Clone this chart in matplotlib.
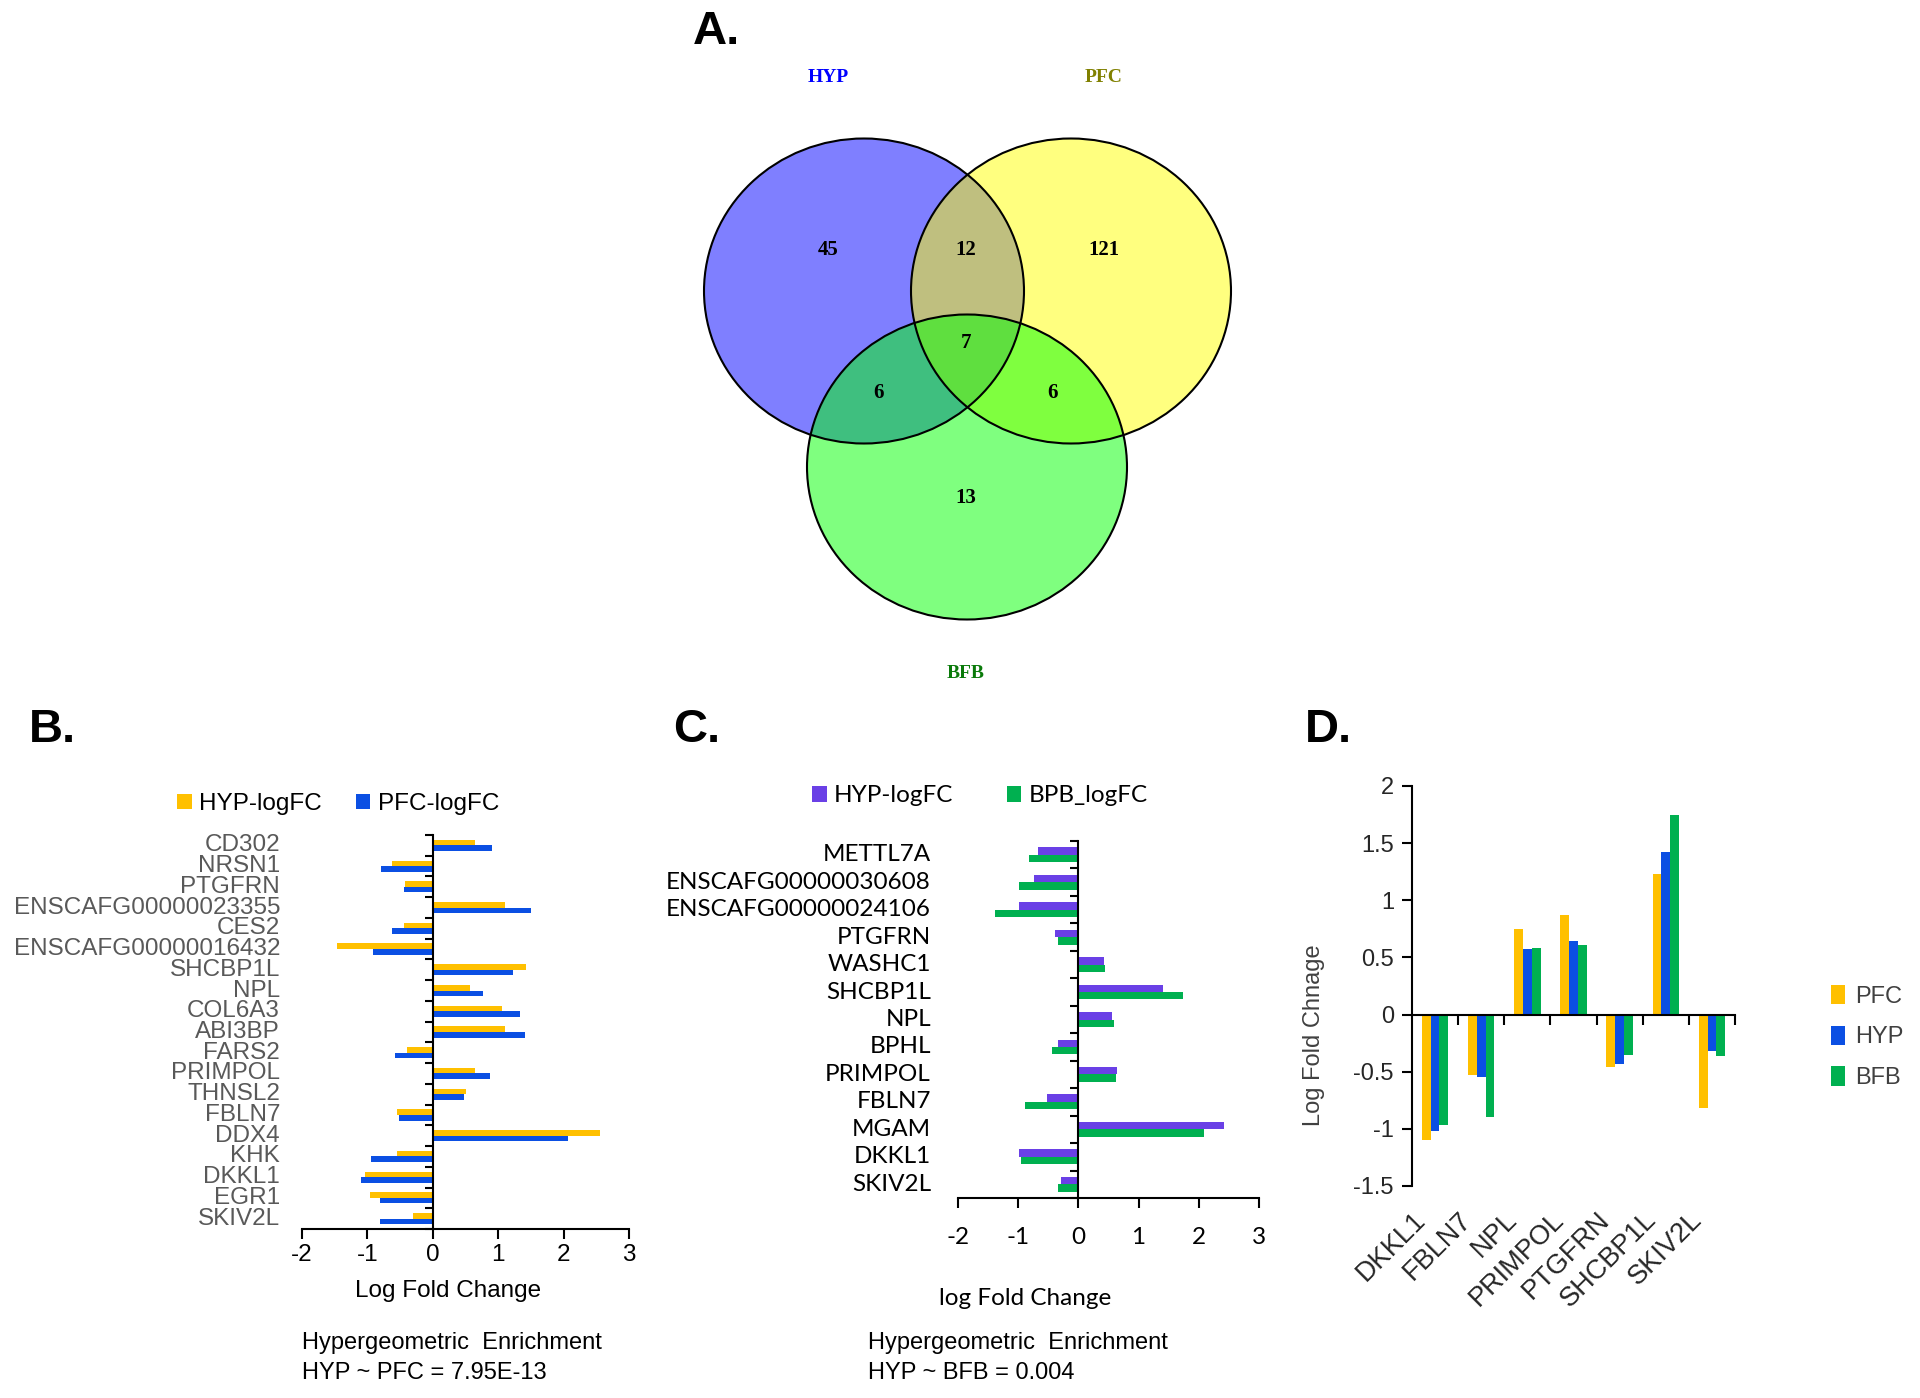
import numpy as np
import matplotlib.pyplot as plt
from matplotlib.patches import Ellipse
from matplotlib.transforms import blended_transform_factory

# ---- data ----
venn_sets = ["HYP", "PFC", "BFB"]
venn_counts = {"HYP": 45, "PFC": 121, "BFB": 13,
               "HYP&PFC": 12, "HYP&BFB": 6, "PFC&BFB": 6, "ALL": 7}

b_genes = ["CD302", "NRSN1", "PTGFRN", "ENSCAFG00000023355", "CES2",
           "ENSCAFG00000016432", "SHCBP1L", "NPL", "COL6A3", "ABI3BP", "FARS2",
           "PRIMPOL", "THNSL2", "FBLN7", "DDX4", "KHK", "DKKL1", "EGR1", "SKIV2L"]
b_hyp = [0.65, -0.63, -0.42, 1.11, -0.44, -1.47, 1.43, 0.57, 1.06, 1.11, -0.40,
         0.65, 0.50, -0.54, 2.55, -0.54, -1.03, -0.96, -0.30]
b_pfc = [0.90, -0.79, -0.44, 1.50, -0.63, -0.91, 1.23, 0.76, 1.34, 1.41, -0.58,
         0.87, 0.48, -0.52, 2.06, -0.95, -1.10, -0.81, -0.81]

c_genes = ["METTL7A", "ENSCAFG00000030608", "ENSCAFG00000024106", "PTGFRN",
           "WASHC1", "SHCBP1L", "NPL", "BPHL", "PRIMPOL", "FBLN7", "MGAM",
           "DKKL1", "SKIV2L"]
c_hyp = [-0.67, -0.74, -0.99, -0.39, 0.42, 1.41, 0.56, -0.34, 0.64, -0.52, 2.42, -0.99, -0.29]
c_bpb = [-0.82, -0.99, -1.38, -0.34, 0.44, 1.74, 0.59, -0.44, 0.62, -0.89, 2.09, -0.95, -0.34]

d_genes = ["DKKL1", "FBLN7", "NPL", "PRIMPOL", "PTGFRN", "SHCBP1L", "SKIV2L"]
d_pfc = [-1.10, -0.53, 0.75, 0.87, -0.46, 1.23, -0.82]
d_hyp = [-1.02, -0.55, 0.57, 0.64, -0.43, 1.42, -0.32]
d_bfb = [-0.97, -0.90, 0.58, 0.61, -0.35, 1.75, -0.36]

YEL = "#FFC000"
BLUE = "#0B4FE3"
PURP = "#6A40E6"
GRN = "#00B050"
SANS = ["Liberation Sans", "DejaVu Sans"]
SERIF = ["Liberation Serif", "DejaVu Serif"]
CAL = ["Lato", "DejaVu Sans"]

W, H = 1920, 1398
fig = plt.figure(figsize=(19.2, 13.98), dpi=100)


def frac(l, t, r, b):
    return [l / W, 1 - b / H, (r - l) / W, (b - t) / H]


# ---- A: venn ----
va = fig.add_axes([0, 0, 1, 1])
va.set_xlim(0, W)
va.set_ylim(H, 0)
va.axis("off")
centers = {"HYP": (864, 291), "PFC": (1071, 291), "BFB": (967, 467)}
fills = {"HYP": "#0000FF", "PFC": "#FFFF00", "BFB": "#00FF00"}
for s in venn_sets:
    va.add_patch(Ellipse(centers[s], 320, 305, fc=fills[s], alpha=0.5, ec="none"))
for s in venn_sets:
    va.add_patch(Ellipse(centers[s], 320, 305, fill=False, ec="black", lw=1.5))

label_pos = {"HYP": (828, 77), "PFC": (1104, 77), "BFB": (966, 673)}
label_col = {"HYP": "#0000FF", "PFC": "#808000", "BFB": "#0A7A0A"}
for s in venn_sets:
    va.text(*label_pos[s], s, color=label_col[s], family=SERIF, fontweight="bold",
            fontsize=14, ha="center", va="center")
count_pos = {"HYP": (828, 250), "HYP&PFC": (966, 250), "PFC": (1104, 250),
             "ALL": (966, 343), "HYP&BFB": (879, 393), "PFC&BFB": (1052, 393),
             "BFB": (966, 498)}
for k, v in venn_counts.items():
    va.text(*count_pos[k], str(v), family=SERIF, fontweight="bold", fontsize=15,
            ha="center", va="center")

for letter, x, y in [("A.", 693, 44), ("B.", 29, 742), ("C.", 673, 742), ("D.", 1305, 742)]:
    fig.text(x / W, 1 - y / H, letter, fontsize=34, fontweight="bold", family=SANS,
             ha="left", va="baseline")


def hbar_panel(rect, genes, v1, v2, c1, c2, n1, n2, lab_font, lab_color, label_off,
               tick_pad, xlabel, xlabel_xy, leg_xy, colsp):
    ax = fig.add_axes(rect)
    ax.set_facecolor("none")
    y = np.arange(len(genes))
    h = 0.27
    ax.barh(y - h / 2, v1, height=h, color=c1, label=n1)
    ax.barh(y + h / 2, v2, height=h, color=c2, label=n2)
    ax.set_ylim(len(genes) - 0.5, -0.5)
    ax.set_xlim(-2, 3)
    ax.set_xticks(range(-2, 4))
    ax.set_xticklabels([str(t) for t in range(-2, 4)], family=lab_font, fontsize=17.5)
    ax.spines["top"].set_visible(False)
    ax.spines["right"].set_visible(False)
    ax.spines["left"].set_position(("data", 0))
    for sp in ax.spines.values():
        sp.set_linewidth(1.5)
    ax.set_yticks(np.arange(-0.5, len(genes), 1))
    ax.tick_params(axis="y", labelleft=False, length=6, width=1.5, direction="out")
    ax.tick_params(axis="x", length=7, width=1.5, direction="out", pad=tick_pad)
    tr = blended_transform_factory(ax.transAxes, ax.transData)
    for yi, g in zip(y, genes):
        ax.text(label_off, yi, g, transform=tr, ha="right", va="center",
                family=lab_font, fontsize=17.5, color=lab_color)
    ax.set_xlabel(xlabel, family=lab_font, fontsize=17.5)
    ax.xaxis.set_label_coords(*xlabel_xy)
    ax.legend(loc="center", bbox_to_anchor=(leg_xy[0] / W, 1 - leg_xy[1] / H),
              bbox_transform=fig.transFigure, ncol=2, frameon=False,
              prop={"family": lab_font, "size": 17.5}, handlelength=0.6,
              handleheight=0.6, handletextpad=0.3, columnspacing=colsp)
    return ax


axB = hbar_panel(frac(302, 835, 629, 1229), b_genes, b_hyp, b_pfc, YEL, BLUE,
                 "HYP-logFC", "PFC-logFC", SANS, "#595959", -0.067, 4,
                 "Log Fold Change", (0.4465, -0.129), (338, 804), 1.4)
fig.text(302 / W, 1 - 1343 / H, "Hypergeometric  Enrichment", family=SANS,
         fontsize=17, va="center", ha="left")
fig.text(302 / W, 1 - 1373 / H, "HYP ~ PFC = 7.95E-13", family=SANS,
         fontsize=17, va="center", ha="left")

axC = hbar_panel(frac(958, 841, 1259, 1198), c_genes, c_hyp, c_bpb, PURP, GRN,
                 "HYP-logFC", "BPB_logFC", CAL, "black", -0.09, 14,
                 "log Fold Change", (0.2236, -0.253), (980, 796), 2.2)
fig.text(868 / W, 1 - 1343 / H, "Hypergeometric  Enrichment", family=SANS,
         fontsize=17, va="center", ha="left")
fig.text(868 / W, 1 - 1373 / H, "HYP ~ BFB = 0.004", family=SANS,
         fontsize=17, va="center", ha="left")

# ---- D ----
axD = fig.add_axes(frac(1412, 786, 1735, 1186))
axD.set_facecolor("none")
x = np.arange(len(d_genes))
w = 0.19
axD.bar(x - w, d_pfc, w, color=YEL, label="PFC")
axD.bar(x, d_hyp, w, color=BLUE, label="HYP")
axD.bar(x + w, d_bfb, w, color=GRN, label="BFB")
axD.set_xlim(-0.5, len(d_genes) - 0.5)
axD.set_ylim(-1.5, 2)
yt = np.arange(-1.5, 2.01, 0.5)
axD.set_yticks(yt)
axD.set_yticklabels(["{:g}".format(v) for v in yt], family=SANS, fontsize=17,
                    color="#262626")
axD.spines["top"].set_visible(False)
axD.spines["right"].set_visible(False)
axD.spines["bottom"].set_position(("data", 0))
for sp in axD.spines.values():
    sp.set_linewidth(1.5)
axD.set_xticks(np.arange(0.5, len(d_genes), 1))
axD.tick_params(axis="x", labelbottom=False, length=7, width=1.5, direction="out")
axD.tick_params(axis="y", length=7, width=1.5, direction="out", pad=6)
trD = blended_transform_factory(axD.transData, axD.transAxes)
for xi, g in zip(x, d_genes):
    axD.text(xi - 0.3, -0.075, g, transform=trD, rotation=45, ha="right", va="center",
             rotation_mode="anchor", family=SANS, fontsize=19.5, color="#262626")
axD.set_ylabel("Log Fold Chnage", family=SANS, fontsize=17, color="#404040")
axD.yaxis.set_label_coords(-0.27, 0.378)
axD.legend(loc="center left", bbox_to_anchor=(1810 / W, 1 - 1037 / H),
           bbox_transform=fig.transFigure, frameon=False,
           prop={"family": SANS, "size": 17}, handlelength=0.6, handleheight=0.9,
           handletextpad=0.4, labelspacing=0.75, labelcolor="#404040")

fig.savefig("out.png", dpi=100)
